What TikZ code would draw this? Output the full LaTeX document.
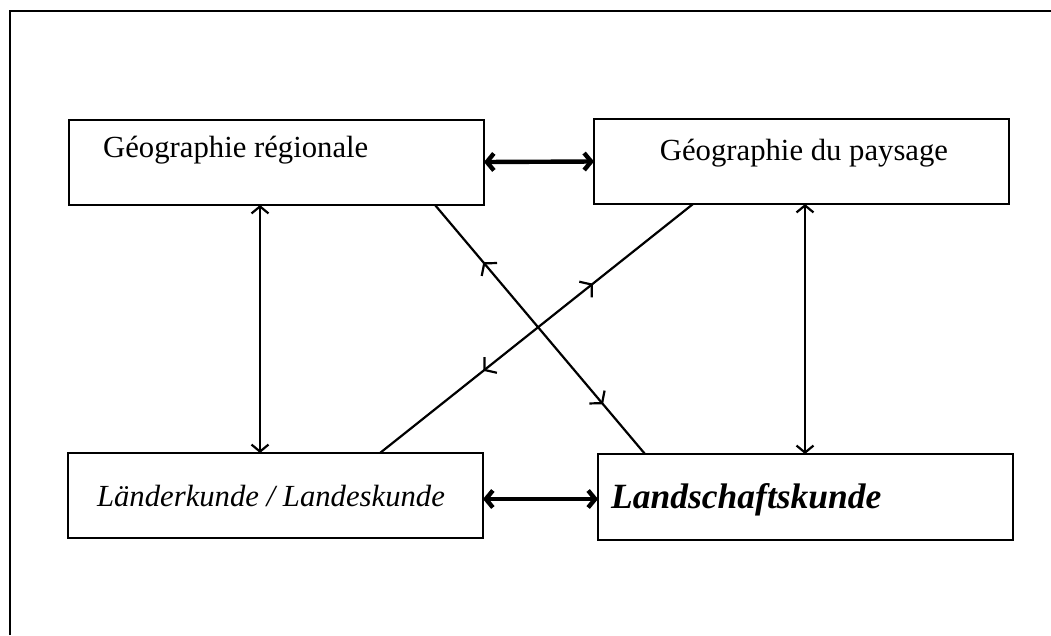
\documentclass[tikz,border=0pt]{standalone}
\usepackage{fontspec}
\setmainfont{Liberation Serif}
\usetikzlibrary{arrows.meta,decorations.markings,calc}
\begin{document}
\begin{tikzpicture}[x=1pt,y=-1pt,
  box/.style={draw, line width=2.6pt, minimum width=415pt, minimum height=85pt, inner sep=0pt, outer sep=0pt},
  lbl/.style={inner sep=0pt, font=\fontsize{30.7}{36}\selectfont},
  thinarrow/.style={line width=2.2pt, {Straight Barb[length=7pt,width=17pt]}-{Straight Barb[length=7pt,width=17pt]}},
  thickarrow/.style={line width=4.4pt, {Straight Barb[length=7pt,width=17pt]}-{Straight Barb[length=7pt,width=17pt]}},
  midarrows/.style 2 args={line width=2.2pt, postaction={decorate}, decoration={markings,
     mark=at position #1 with {\arrowreversed[line width=2.2pt]{Straight Barb[length=8pt,width=20pt]}},
     mark=at position #2 with {\arrow[line width=2.2pt]{Straight Barb[length=8pt,width=20pt]}}}}
]
\useasboundingbox (0,0) rectangle (1051,635);
\fill[white] (0,0) rectangle (1051,635);
% outer frame (partly visible)
\draw[line width=2.8pt] (10,635) -- (10,11) -- (1051,11);

% boxes
\node[box] (tl) at (276.5,162.5) {};
\node[box] (tr) at (801.5,161.5) {};
\node[box] (bl) at (275.5,495.5) {};
\node[box, minimum height=86pt] (br) at (805.5,497) {};

% labels
\node[lbl, anchor=base west] (tltxt) at ([xshift=34pt,yshift=-37pt]tl.north west) {Géographie régionale};
\node[lbl, anchor=base] (trtxt) at ([xshift=2.5pt,yshift=-41pt]tr.north) {Géographie du paysage};
\node[lbl, anchor=base, font=\fontsize{30.7}{36}\selectfont\itshape] (bltxt) at ([xshift=-4.5pt,yshift=-53pt]bl.north) {Länderkunde / Landeskunde};
\node[lbl, anchor=base west, font=\fontsize{35.5}{40}\selectfont\bfseries\itshape] (brtxt) at ([xshift=13pt,yshift=-54pt]br.north west) {Landschaftskunde};

% horizontal thick double arrows
\draw[thickarrow] ([yshift=0.5pt]tl.east) -- (tr.west);
\draw[thickarrow] ([yshift=-3.5pt]bl.east) -- ([yshift=-2pt]br.west);

% vertical double arrows
\draw[thinarrow] ([xshift=-16.5pt]tl.south) -- ([xshift=-15.5pt]bl.north);
\draw[thinarrow] ([xshift=3.5pt]tr.south) -- ([xshift=-0.5pt]br.north);

% diagonals with mid arrows
\draw[midarrows={0.23}{0.8}] ([xshift=366pt]tl.south west) -- ([xshift=47pt]br.north west);
\draw[midarrows={0.32}{0.67}] ([xshift=99pt]tr.south west) -- ([xshift=312pt]bl.north west);
\end{tikzpicture}
\end{document}
